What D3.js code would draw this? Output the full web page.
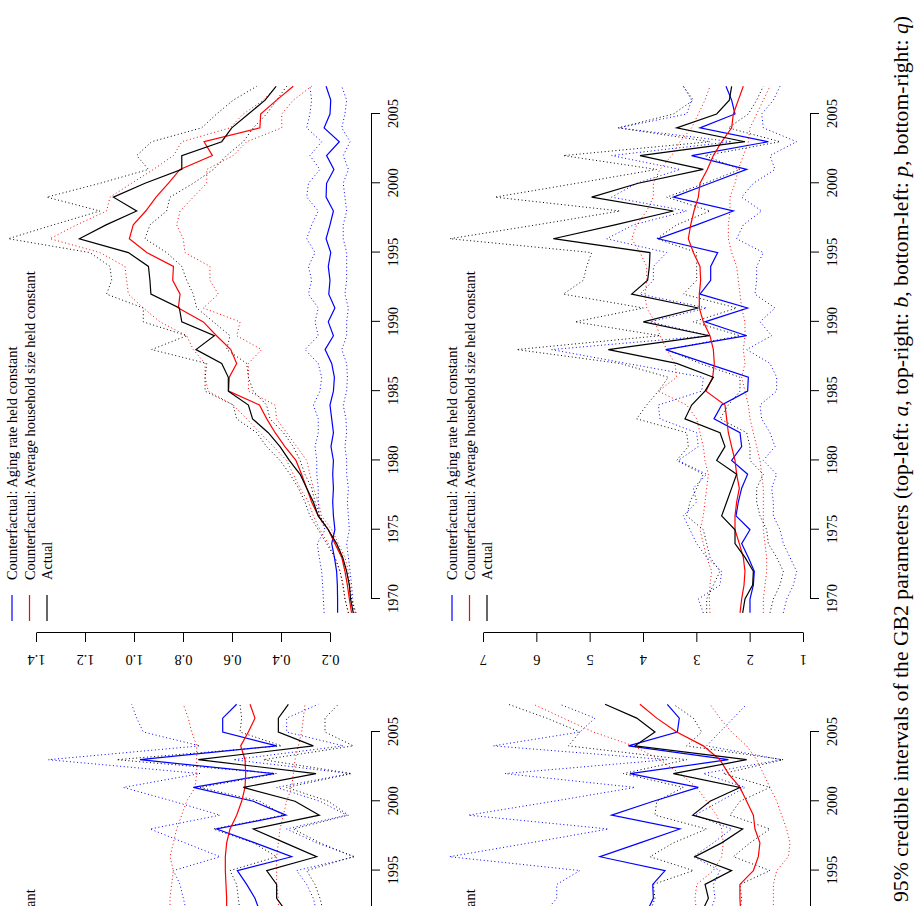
<!DOCTYPE html>
<html>
<head>
<meta charset="utf-8">
<script src="https://cdn.jsdelivr.net/npm/d3@7"></script>
<style>
  html, body { margin: 0; padding: 0; background: #fff; }
  svg { display: block; font-family: "Liberation Serif", "Times New Roman", serif; }
</style>
</head>
<body>
<svg id="chart" width="917" height="906"></svg>
<script>
// years on the time axis; lower panels are cut by the page, only 1992-2007 shows
const years = d3.range(1969, 2008);
const yearsCut = d3.range(1992, 2008);
const timeTicks = [1970, 1975, 1980, 1985, 1990, 1995, 2000, 2005];
const timeTicksCut = [1995, 2000, 2005];

const legendLabels = [
  'Counterfactual: Aging rate held constant',
  'Counterfactual: Average household size held constant',
  'Actual'
];
const seriesColors = ['#0000ff', '#ff0000', '#000000'];

// b (top-right of the page)
const bTicks = [0.2, 0.4, 0.6, 0.8, 1.0, 1.2, 1.4];
const bAging = [0.169,0.169,0.17,0.173,0.182,0.193,0.18,0.186,0.189,0.186,0.189,0.186,0.196,0.186,0.193,0.2,0.186,0.182,0.193,0.22,0.186,0.207,0.18,0.205,0.2,0.207,0.197,0.216,0.2,0.186,0.216,0.214,0.184,0.214,0.162,0.224,0.2,0.197,0.216];
const bAgingLo = [0.105,0.107,0.112,0.118,0.125,0.132,0.121,0.125,0.129,0.125,0.132,0.132,0.139,0.132,0.135,0.146,0.132,0.129,0.132,0.152,0.132,0.132,0.125,0.139,0.132,0.132,0.132,0.146,0.146,0.132,0.139,0.146,0.125,0.146,0.118,0.152,0.139,0.132,0.152];
const bAgingHi = [0.224,0.227,0.23,0.234,0.244,0.252,0.22,0.244,0.248,0.248,0.254,0.254,0.261,0.248,0.248,0.268,0.241,0.234,0.248,0.302,0.248,0.261,0.248,0.288,0.275,0.288,0.261,0.295,0.275,0.248,0.295,0.288,0.241,0.282,0.234,0.295,0.282,0.275,0.282];
const bHouse = [0.112,0.121,0.129,0.139,0.152,0.18,0.207,0.248,0.275,0.295,0.316,0.339,0.384,0.424,0.458,0.488,0.614,0.611,0.581,0.605,0.663,0.717,0.819,0.812,0.842,0.839,0.948,1.019,1.003,0.952,0.91,0.86,0.812,0.68,0.714,0.486,0.483,0.418,0.35];
const bHouseLo = [0.098,0.112,0.118,0.125,0.139,0.166,0.193,0.234,0.248,0.268,0.282,0.295,0.336,0.377,0.418,0.424,0.533,0.533,0.533,0.479,0.581,0.567,0.717,0.656,0.69,0.69,0.792,0.799,0.826,0.812,0.758,0.703,0.703,0.595,0.54,0.397,0.397,0.35,0.275];
const bHouseHi = [0.125,0.139,0.148,0.159,0.18,0.207,0.241,0.268,0.288,0.322,0.35,0.377,0.431,0.486,0.54,0.595,0.697,0.71,0.71,0.758,0.785,0.894,0.962,1.023,1.03,1.037,1.139,1.343,1.234,1.112,1.098,1.01,0.921,0.839,0.805,0.608,0.554,0.472,0.418];
const bActual = [0.105,0.116,0.121,0.132,0.148,0.173,0.207,0.248,0.268,0.295,0.322,0.366,0.404,0.452,0.516,0.533,0.615,0.615,0.642,0.747,0.672,0.805,0.815,0.931,0.935,0.941,1.023,1.223,1.114,0.989,1.084,0.955,0.805,0.805,0.642,0.601,0.533,0.465,0.42];
const bActualLo = [0.094,0.112,0.121,0.132,0.152,0.18,0.207,0.241,0.261,0.275,0.302,0.322,0.35,0.39,0.445,0.459,0.513,0.533,0.54,0.622,0.608,0.676,0.744,0.758,0.785,0.805,0.867,0.955,0.935,0.867,0.853,0.758,0.676,0.622,0.554,0.513,0.459,0.418,0.377];
const bActualHi = [0.125,0.139,0.146,0.159,0.18,0.214,0.248,0.282,0.302,0.329,0.363,0.404,0.459,0.499,0.581,0.595,0.71,0.71,0.703,0.928,0.785,0.962,0.962,1.112,1.091,1.098,1.18,1.513,1.329,1.139,1.356,1.139,0.941,0.989,0.928,0.724,0.663,0.595,0.499];

// q (bottom-right of the page)
const qTicks = [1, 2, 3, 4, 5, 6, 7];
const qAging = [1.994,1.994,1.931,1.913,2.025,2.15,1.994,2.256,2.213,2.15,2.038,2.338,2.15,2.181,2.669,2.525,2.038,2.025,2.806,3.575,2.056,2.838,2.038,2.931,2.731,2.731,2.6,3.713,2.994,2.306,3.431,2.744,2.056,3.088,1.65,2.931,2.275,2.338,2.444];
const qAgingLo = [1.369,1.306,1.181,1.119,1.244,1.369,1.431,1.556,1.556,1.588,1.494,1.744,1.525,1.619,1.775,1.806,1.494,1.494,1.619,2.056,1.588,1.806,1.525,1.9,1.869,1.869,1.744,2.244,2.119,1.775,2.15,1.931,1.525,1.619,1.119,1.744,1.775,1.556,1.431];
const qAgingHi = [2.869,2.963,2.556,2.525,2.806,2.994,3.119,3.244,2.994,3.056,2.806,3.338,2.963,2.994,3.681,3.713,2.9,2.869,4.306,5.713,2.744,3.869,2.806,4.056,3.806,3.806,3.556,4.681,4.181,3.181,4.588,4.119,3.306,4.588,2.338,4.463,3.181,3.088,3.244];
const qHouse = [2.181,2.15,2.106,2.088,2.119,2.194,2.275,2.275,2.244,2.194,2.244,2.275,2.338,2.4,2.431,2.463,2.819,2.694,2.663,2.681,2.744,2.869,2.944,2.944,2.919,2.931,3.056,3.15,3.106,3.044,2.963,2.931,2.794,2.681,2.525,2.338,2.306,2.213,2.119];
const qHouseLo = [1.744,1.744,1.713,1.681,1.681,1.713,1.744,1.744,1.744,1.744,1.775,1.806,1.869,1.931,1.994,2.025,2.088,2.15,2.088,2.119,2.088,2.088,2.15,2.181,2.213,2.244,2.338,2.4,2.4,2.369,2.369,2.275,2.213,2.119,2.025,1.994,1.869,1.744,1.619];
const qHouseHi = [2.744,2.756,2.744,2.713,2.806,2.869,2.931,2.869,2.838,2.806,2.775,2.838,2.869,2.931,2.994,3.181,3.713,3.369,3.4,3.556,3.681,3.775,3.931,3.963,3.931,3.931,4.056,4.213,4.119,3.931,3.806,3.806,3.681,3.463,3.306,3.088,2.963,2.838,2.744];
const qActual = [2.131,2.088,1.944,1.931,2.088,2.275,2.275,2.525,2.431,2.338,2.244,2.619,2.463,2.556,3.213,3.088,2.838,2.681,3.369,4.65,2.756,3.994,2.963,4.213,3.913,3.881,3.869,5.681,4.525,3.431,4.963,4.088,2.869,4.056,2.088,3.369,2.619,2.381,2.338];
const qActualLo = [1.619,1.556,1.431,1.369,1.494,1.65,1.681,1.806,1.869,1.869,1.744,1.994,1.994,2.056,2.556,2.4,2.181,2.181,2.931,3.556,2.181,3.056,2.244,3.244,2.994,2.994,2.994,3.744,3.369,2.744,3.556,2.838,2.181,2.838,1.431,2.4,2.025,1.869,1.744];
const qActualHi = [2.806,2.806,2.681,2.556,2.744,2.806,2.869,3.181,3.119,2.994,2.869,3.369,3.15,3.181,4.119,3.931,3.713,3.525,4.431,6.369,3.681,5.275,3.994,5.494,5.119,5.056,4.963,7.619,5.994,4.431,6.775,5.244,3.744,5.494,2.744,4.463,3.431,3.056,3.244];

// a (top-left of the page), 1992-2007; its value axis lies outside the picture
const aAging = [2.364,2.455,2.606,2.776,1.788,2.455,3.152,1.891,2.485,3.576,2.109,4.545,2.061,3.042,3.042,2.788];
const aAgingLo = [1.333,1.394,1.515,1.697,0.636,1.333,1.879,0.788,1.273,2.061,0.727,2.848,0.848,1.879,1.879,1.303];
const aAgingHi = [3.697,3.758,3.818,3.939,3.091,3.727,4.364,3.091,3.939,4.848,3.455,6.212,3.455,4.485,4.606,4.697];
const aHouse = [2.97,2.97,2.982,2.994,2.994,2.97,2.909,2.788,2.697,2.636,2.624,2.636,2.715,2.576,2.455,2.545];
const aHouseLo = [2.03,2.03,2.061,2.061,2.061,2.03,2.0,1.939,1.879,1.788,1.758,1.727,1.667,1.606,1.576,1.545];
const aHouseHi = [4.0,4.0,3.97,3.939,4.0,3.939,3.879,3.788,3.697,3.545,3.515,3.515,3.515,3.606,3.667,3.758];
const aActual = [1.879,2.061,2.061,2.242,1.333,1.909,2.485,1.285,1.727,2.667,1.345,3.485,1.394,2.03,2.03,1.848];
const aActualLo = [1.212,1.273,1.364,1.515,0.667,1.273,1.758,0.758,1.121,1.879,0.697,2.303,0.667,1.182,1.182,0.939];
const aActualHi = [2.727,2.758,2.788,2.909,2.061,2.485,3.212,1.939,2.364,3.455,2.061,4.97,1.97,2.727,2.697,2.727];

// p (bottom-left of the page), 1992-2007; its value axis lies outside the picture
const pAging = [1.146,1.104,1.108,1.031,1.438,1.188,0.938,1.365,1.104,0.823,1.25,0.635,1.26,0.954,0.942,1.017];
const pAgingLo = [0.75,0.719,0.729,0.688,0.854,0.729,0.615,0.844,0.688,0.531,0.792,0.302,0.771,0.688,0.604,0.521];
const pAgingHi = [1.781,1.708,1.708,1.563,2.379,1.875,1.385,2.26,1.729,1.219,2.031,1.021,2.104,1.563,1.469,1.688];
const pHouse = [0.558,0.563,0.563,0.479,0.448,0.438,0.469,0.479,0.521,0.563,0.635,0.688,0.792,0.958,1.083,1.188];
const pHouseLo = [0.354,0.354,0.354,0.333,0.26,0.25,0.271,0.302,0.333,0.375,0.417,0.458,0.521,0.615,0.688,0.75];
const pHouseHi = [0.833,0.844,0.833,0.729,0.677,0.667,0.677,0.708,0.771,0.833,0.938,1.063,1.229,1.479,1.667,1.854];
const pActual = [0.802,0.76,0.781,0.615,0.844,0.677,0.546,0.858,0.75,0.563,0.979,0.521,1.219,1.094,1.208,1.406];
const pActualLo = [0.563,0.552,0.563,0.375,0.604,0.5,0.375,0.625,0.563,0.375,0.667,0.292,0.896,0.802,0.854,0.979];
const pActualHi = [1.125,1.094,1.104,0.854,1.125,0.979,0.771,1.094,1.083,0.917,1.292,0.896,1.635,1.563,1.771,2.01];

const svg = d3.select('#chart');
svg.append('rect').attr('width', 917).attr('height', 906).attr('fill', '#fff');

// the page is drawn upright, then turned a quarter turn to the left
const page = svg.append('g').attr('transform', 'translate(0,906) rotate(-90)');

const fontSize = 14.4;

const panels = [
  { years: yearsCut, tTicks: timeTicksCut, xRange: [-311, 174], y: d3.scaleLinear().domain([1, 6]).range([335, 60]),
    ticks: null, axisAt: 371, legendX: -333, legendY: 12,
    series: [[aAging, aAgingLo, aAgingHi], [aHouse, aHouseLo, aHouseHi], [aActual, aActualLo, aActualHi]] },
  { years: years, tTicks: timeTicks, xRange: [307, 792], y: d3.scaleLinear().domain([0.2, 1.4]).range([330, 36]),
    ticks: bTicks, fmt: d3.format('.1f'), axisAt: 371, valueAxisAt: 273, legendX: 285, legendY: 12,
    series: [[bAging, bAgingLo, bAgingHi], [bHouse, bHouseLo, bHouseHi], [bActual, bActualLo, bActualHi]] },
  { years: yearsCut, tTicks: timeTicksCut, xRange: [-311, 174], y: d3.scaleLinear().domain([0.5, 2]).range([750, 510]),
    ticks: null, axisAt: 810, legendX: -333, legendY: 452,
    series: [[pAging, pAgingLo, pAgingHi], [pHouse, pHouseLo, pHouseHi], [pActual, pActualLo, pActualHi]] },
  { years: years, tTicks: timeTicks, xRange: [307, 792], y: d3.scaleLinear().domain([1, 7]).range([803, 483]),
    ticks: qTicks, fmt: d3.format('d'), axisAt: 810, valueAxisAt: 273, legendX: 285, legendY: 452,
    series: [[qAging, qAgingLo, qAgingHi], [qHouse, qHouseLo, qHouseHi], [qActual, qActualLo, qActualHi]] }
];

panels.forEach(p => {
  const g = page.append('g');
  const x = d3.scaleLinear().domain([1970, 2005]).range(p.xRange);
  const y = p.y;
  const line = d3.line()
    .x((d, i) => x(p.years[i]))
    .y(d => y(d));

  p.series.forEach((s, k) => {
    // credible bounds, dotted
    [s[1], s[2]].forEach(arr => {
      g.append('path')
        .datum(arr)
        .attr('d', line)
        .attr('fill', 'none')
        .attr('stroke', seriesColors[k])
        .attr('stroke-width', 1)
        .attr('stroke-dasharray', '1,2.6');
    });
  });
  p.series.forEach((s, k) => {
    g.append('path')
      .datum(s[0])
      .attr('d', line)
      .attr('fill', 'none')
      .attr('stroke', seriesColors[k])
      .attr('stroke-width', 1.2);
  });

  // time axis
  const tAxis = g.append('g')
    .attr('transform', `translate(0,${p.axisAt})`)
    .call(d3.axisBottom(x).tickValues(p.tTicks).tickFormat(d3.format('d'))
      .tickSize(9).tickSizeOuter(0).tickPadding(8));
  tAxis.attr('font-size', fontSize).attr('font-family', null);

  // value axis, labels run along the axis
  if (p.ticks) {
    const vAxis = g.append('g')
      .attr('transform', `translate(${p.valueAxisAt},0)`)
      .call(d3.axisLeft(y).tickValues(p.ticks).tickFormat(p.fmt)
        .tickSize(9).tickSizeOuter(0));
    vAxis.attr('font-size', fontSize).attr('font-family', null);
    vAxis.selectAll('text')
      .attr('x', 0).attr('dy', null)
      .attr('text-anchor', 'middle')
      .attr('transform', 'translate(-22,0) rotate(-90)');
  }

  // legend (entries that fall wholly below the page are left out)
  const lg = g.append('g');
  legendLabels.forEach((lab, i) => {
    const cy = p.legendY + i * 17.5;
    const t = lg.append('text')
      .attr('x', p.legendX + 41)
      .attr('y', cy)
      .attr('dy', '0.35em')
      .attr('font-size', fontSize)
      .text(lab);
    if (p.legendX + 41 + t.node().getComputedTextLength() < 0) t.remove();
    if (p.legendX + 26 > 0) {
      lg.append('line')
        .attr('x1', p.legendX).attr('x2', p.legendX + 26)
        .attr('y1', cy).attr('y2', cy)
        .attr('stroke', seriesColors[i])
        .attr('stroke-width', 1.2);
    }
  });
});

// caption
const cap = page.append('text')
  .attr('x', 447)
  .attr('y', 908)
  .attr('text-anchor', 'middle')
  .attr('font-size', 21.7);
const capParts = [
  ['95% credible intervals of the GB2 parameters (top-left: ', false], ['a', true],
  [', top-right: ', false], ['b', true],
  [', bottom-left: ', false], ['p', true],
  [', bottom-right: ', false], ['q', true], [')', false]
];
capParts.forEach(([t, it]) => {
  cap.append('tspan').attr('font-style', it ? 'italic' : null).text(t);
});
</script>
</body>
</html>
